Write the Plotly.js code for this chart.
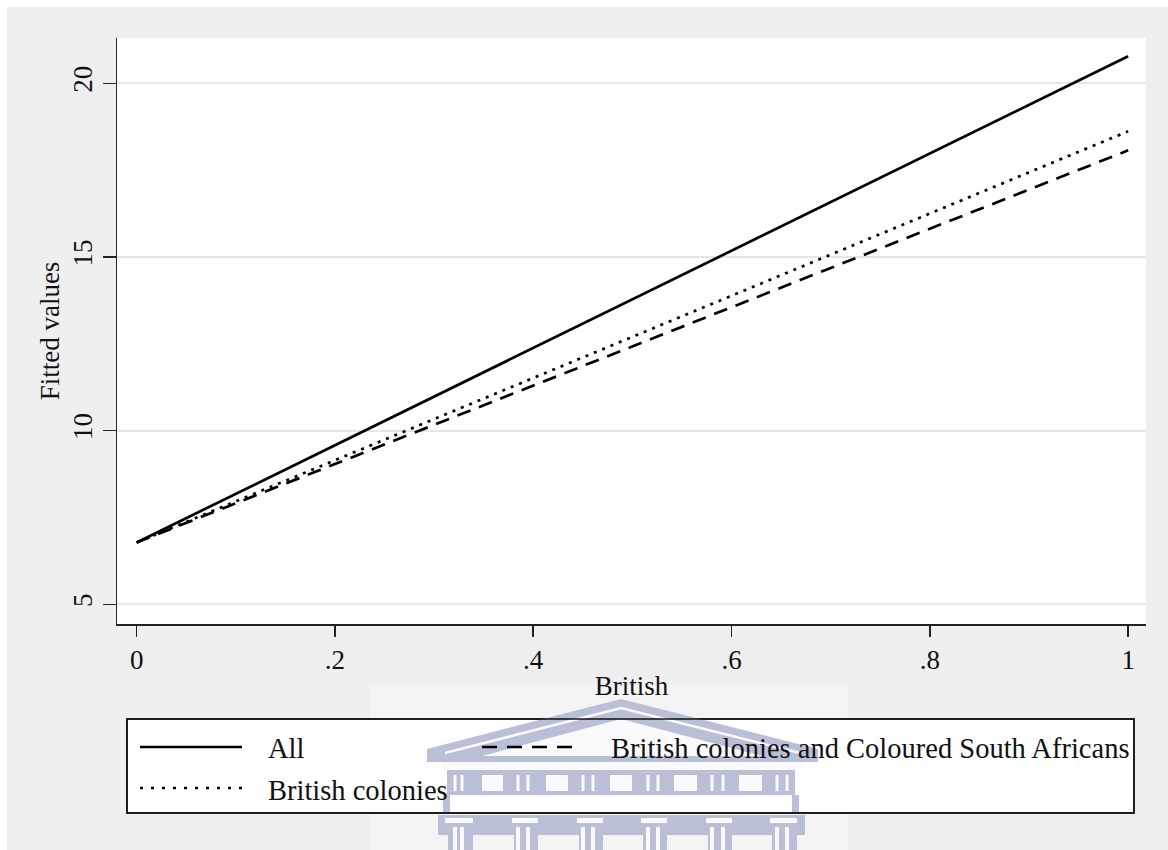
<!DOCTYPE html>
<html>
<head>
<meta charset="utf-8">
<script src="https://cdn.plot.ly/plotly-3.0.1.min.js"></script>
<style>html,body{margin:0;padding:0;background:#fff;}#chart{width:1168px;height:850px;}</style>
</head>
<body>
<div id="chart"></div>
<script>
// ---- data ----
const britishX = [0, 1];
const fittedAll = [6.78, 20.78];
const fittedColonies = [6.78, 18.62];
const fittedColoured = [6.78, 18.07];
const seriesNames = ["All", "British colonies", "British colonies and Coloured South Africans"];
const xTickVals = [0, 0.2, 0.4, 0.6, 0.8, 1];
const xTickText = ["0", ".2", ".4", ".6", ".8", "1"];
const yTickVals = [5, 10, 15, 20];
const yTickText = ["5", "10", "15", "20"];

// ---- layout geometry (pixels) ----
const W = 1168, H = 850;
const M = {l: 117, r: 22, t: 38, b: 226};
const PW = W - M.l - M.r, PH = H - M.t - M.b;
const px = x => (x - M.l) / PW;
const py = y => (H - M.b - y) / PH;
const FONT = "Liberation Serif, Times New Roman, serif";
const INK = "#111";

function rect(x0, y0, x1, y1, fill, line, lw, layer) {
  return {type: "rect", xref: "paper", yref: "paper",
    x0: px(x0), x1: px(x1), y0: py(y1), y1: py(y0),
    fillcolor: fill || "rgba(0,0,0,0)",
    line: {color: line || "rgba(0,0,0,0)", width: lw || 0},
    layer: layer || "above"};
}
function seg(x0, y0, x1, y1, color, w, dash) {
  return {type: "line", xref: "paper", yref: "paper",
    x0: px(x0), x1: px(x1), y0: py(y0), y1: py(y1),
    line: {color: color, width: w, dash: dash || "solid"}, layer: "above"};
}
function poly(pts, fill, stroke, w, close) {
  const d = pts.map((p, i) => (i ? "L" : "M") + px(p[0]) + "," + py(p[1])).join(" ") + (close ? " Z" : "");
  return {type: "path", xref: "paper", yref: "paper", path: d,
    line: {color: stroke || "rgba(0,0,0,0)", width: w || 0},
    fillcolor: fill || "rgba(0,0,0,0)", layer: "above"};
}

const traces = [
  {x: britishX, y: fittedAll, name: seriesNames[0], type: "scatter", mode: "lines",
   line: {color: "#000", width: 2.7, dash: "solid"}, showlegend: false},
  {x: britishX, y: fittedColonies, name: seriesNames[1], type: "scatter", mode: "lines",
   line: {color: "#000", width: 2.7, dash: "3px,6px"}, showlegend: false},
  {x: britishX, y: fittedColoured, name: seriesNames[2], type: "scatter", mode: "lines",
   line: {color: "#000", width: 2.7, dash: "14px,9px"}, showlegend: false}
];

// watermark colours
const WM = "rgb(186,191,216)";
const WW = "rgb(250,250,252)";

const shapes = [];
// white outer strips (top and left)
shapes.push(rect(0, 0, W, 7, "#fff", null, 0, "below"));
shapes.push(rect(0, 0, 7, H, "#fff", null, 0, "below"));
// faint lighter area behind watermark
shapes.push(rect(370, 685, 848, H, "rgba(255,255,255,0.35)", null, 0, "below"));
// legend box (fill)
shapes.push(rect(127, 719, 1134, 813, "#fff", "#111", 1.5, "above"));
// watermark: pediment
shapes.push(poly([[427, 762], [427, 749], [621, 699], [818, 749], [818, 762]], WM, null, 0, true));
shapes.push(poly([[445, 753], [621, 708], [800, 753]], null, WW, 2.5, false));
shapes.push(poly([[482, 756], [621, 719], [762, 756]], WW, null, 0, true));
shapes.push(rect(442, 762, 803, 770, WW));
// frieze
shapes.push(rect(447, 770, 795, 795, WM));
[[482, 503], [546, 568], [610, 632], [674, 697], [739, 762]].forEach(w => shapes.push(rect(w[0], 775, w[1], 791, WW)));
[455, 462, 518, 528, 583, 593, 648, 658, 712, 723, 777, 787].forEach(b => shapes.push(rect(b - 1.5, 775, b + 1.5, 791, WW)));
shapes.push(rect(443, 795, 450, 812, WM));
shapes.push(rect(792, 795, 799, 812, WM));
// capitals and columns
shapes.push(rect(438, 815, 805, 835, WM));
[[445, 473], [512, 538], [577, 603], [641, 667], [706, 732], [770, 797]].forEach(c => shapes.push(rect(c[0], 818, c[1], 823, WW)));
[[448, 473], [514, 538], [579, 603], [643, 667], [708, 732], [772, 797]].forEach(c => shapes.push(rect(c[0], 835, c[1], H, WM)));
[455, 462, 518, 528, 583, 593, 648, 658, 712, 723, 777, 787].forEach(b => shapes.push(rect(b - 2, 827, b + 2, H, WW)));
// legend border again on top of watermark
shapes.push(rect(127, 719, 1134, 813, null, "#111", 1.5, "above"));
// legend samples
shapes.push(seg(140, 747, 242, 747, "#000", 2.7, "solid"));
shapes.push(seg(140, 788, 242, 788, "#000", 2.7, "3px,8px"));
shapes.push(seg(482, 747, 578, 747, "#000", 2.7, "15px,10px"));

const annotations = [
  {text: seriesNames[0], x: px(266), y: py(748), xanchor: "left", yanchor: "middle"},
  {text: seriesNames[1], x: px(266), y: py(790), xanchor: "left", yanchor: "middle"},
  {text: seriesNames[2], x: px(609), y: py(748), xanchor: "left", yanchor: "middle"}
].map(a => Object.assign(a, {xref: "paper", yref: "paper", showarrow: false,
  font: {family: FONT, size: 28.5, color: INK}}));

const layout = {
  width: W, height: H,
  margin: M,
  paper_bgcolor: "#efefef",
  plot_bgcolor: "#fff",
  showlegend: false,
  xaxis: {
    range: [-0.0198, 1.018], tickmode: "array", tickvals: xTickVals, ticktext: xTickText,
    showgrid: false, zeroline: false, showline: true, linecolor: "#222", linewidth: 1.5,
    ticks: "outside", ticklen: 11, tickwidth: 1.5, tickcolor: "#222",
    tickfont: {family: FONT, size: 27, color: INK},
    title: {text: "British", font: {family: FONT, size: 27, color: INK}, standoff: 2},
    automargin: false, fixedrange: true
  },
  yaxis: {
    range: [4.433, 21.305], tickmode: "array", tickvals: yTickVals, ticktext: yTickText,
    showgrid: true, gridcolor: "#e6e6e6", gridwidth: 2, zeroline: false,
    showline: true, linecolor: "#222", linewidth: 1.5,
    ticks: "outside", ticklen: 13, tickwidth: 1.5, tickcolor: "#222",
    tickangle: -90,
    tickfont: {family: FONT, size: 27, color: INK},
    title: {text: "Fitted values", font: {family: FONT, size: 27, color: INK}, standoff: 0},
    automargin: false, fixedrange: true
  },
  shapes: shapes,
  annotations: annotations
};

Plotly.newPlot("chart", traces, layout, {displayModeBar: false, staticPlot: true});
</script>
</body>
</html>
